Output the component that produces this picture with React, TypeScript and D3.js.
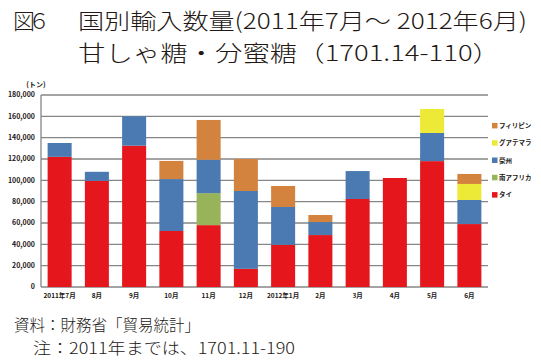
import React from "react";
import * as d3 from "d3";

const months = ["2011年7月", "8月", "9月", "10月", "11月", "12月", "2012年1月", "2月", "3月", "4月", "5月", "6月"];
const seriesNames = ["タイ", "南アフリカ", "豪州", "グアテマラ", "フィリピン"];
const thai = [122000, 99500, 132500, 52500, 58000, 17000, 39500, 48700, 82500, 102200, 118000, 59000];
const southAfrica = [0, 0, 0, 0, 30000, 0, 0, 0, 0, 0, 0, 0];
const australia = [13000, 8500, 27500, 48700, 31300, 73000, 35500, 12200, 26200, 0, 26400, 22600];
const guatemala = [0, 0, 0, 0, 0, 0, 0, 0, 0, 0, 22500, 15000];
const philippines = [0, 0, 0, 17000, 37300, 30000, 19700, 6600, 0, 0, 0, 9400];
const colors = ["#E6161D", "#97B45A", "#4A7AB1", "#EDEA37", "#D4833F"];
const yTicks = [0, 20000, 40000, 60000, 80000, 100000, 120000, 140000, 160000, 180000];

const FONT = "'Noto Sans CJK JP', 'Noto Sans', sans-serif";

export default function App() {
  const W = 541, H = 364;
  const left = 41, right = 488, top = 95, bottom = 287;
  const x = d3.scaleBand<string>().domain(months).range([left, right]).paddingInner(0.355).paddingOuter(0.1775);
  const y = d3.scaleLinear().domain([0, 180000]).range([bottom, top]);
  const table = months.map((m, i) => ({
    month: m,
    タイ: thai[i],
    南アフリカ: southAfrica[i],
    豪州: australia[i],
    グアテマラ: guatemala[i],
    フィリピン: philippines[i],
  }));
  const stack = d3.stack<any>().keys(seriesNames)(table);
  const fmt = d3.format(",");
  const legendOrder = [4, 3, 2, 1, 0];

  return (
    <svg width={W} height={H} style={{ position: "absolute", left: 0, top: 0, background: "#fff" }} fontFamily={FONT}>
      <rect x={0} y={0} width={W} height={H} fill="#fff" />
      {/* Title */}
      <text x={13} y={29} fontSize={22} fontWeight={300} fill="#231815" textLength={37} lengthAdjust="spacing">図６</text>
      <text x={78} y={29} fontSize={22} fontWeight={300} fill="#231815" textLength={449} lengthAdjust="spacingAndGlyphs">国別輸入数量(2011年7月～ 2012年6月)</text>
      <text x={78} y={61} fontSize={22} fontWeight={300} fill="#231815" textLength={422} lengthAdjust="spacingAndGlyphs">甘しゃ糖・分蜜糖（1701.14-110）</text>

      {/* gridlines */}
      {yTicks.map((t) => (
        <line key={t} x1={left} x2={right} y1={y(t)} y2={y(t)} stroke="#868686" strokeWidth={1.3} />
      ))}
      <line x1={left} x2={left} y1={top} y2={bottom} stroke="#868686" strokeWidth={1.3} />

      {/* bars */}
      {stack.map((s, si) => (
        <g key={s.key} fill={colors[si]}>
          {s.map((d, i) =>
            d[1] - d[0] > 0 ? (
              <rect key={i} x={x(months[i])} width={x.bandwidth()} y={y(d[1])} height={y(d[0]) - y(d[1])} />
            ) : null
          )}
        </g>
      ))}

      {/* y tick labels */}
      {yTicks.map((t) => (
        <text key={t} x={35} y={y(t)} dy="0.35em" textAnchor="end" fontSize={7} fontWeight="bold" fill="#231815">
          {fmt(t)}
        </text>
      ))}
      <text x={36} y={85} dy="0.35em" textAnchor="middle" fontSize={7} fontWeight="bold" fill="#231815">(トン)</text>

      {/* x labels */}
      {months.map((m) => (
        <text key={m} x={(x(m) as number) + x.bandwidth() / 2} y={296} dy="0.35em" textAnchor="middle" fontSize={6.5} fontWeight="bold" fill="#231815">
          {m}
        </text>
      ))}

      {/* legend */}
      {legendOrder.map((si, k) => (
        <g key={si} transform={`translate(492, ${125.7 + k * 17.3})`}>
          <rect x={0} y={-2.8} width={5.5} height={5.5} fill={colors[si]} />
          <text x={7} y={0} dy="0.35em" fontSize={6.5} fontWeight="bold" fill="#231815">{seriesNames[si]}</text>
        </g>
      ))}

      {/* notes */}
      <text x={14} y={331} fontSize={15.5} fontWeight={300} fill="#231815" textLength={186} lengthAdjust="spacingAndGlyphs">資料：財務省「貿易統計」</text>
      <text x={33} y={354} fontSize={15.5} fontWeight={300} fill="#231815" textLength={262} lengthAdjust="spacingAndGlyphs">注：2011年までは、1701.11-190</text>
    </svg>
  );
}
